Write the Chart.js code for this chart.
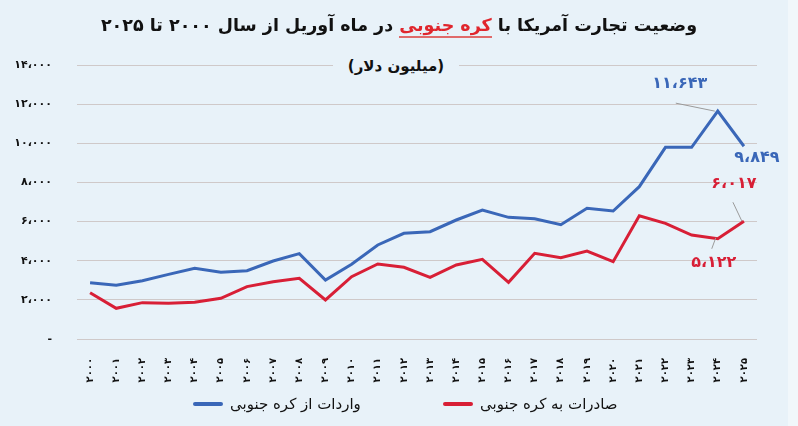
<!DOCTYPE html>
<html lang="fa">
<head>
<meta charset="utf-8">
<script src="https://cdn.jsdelivr.net/npm/chart.js@4.4.1/dist/chart.umd.min.js"></script>
<style>
  html, body { margin: 0; padding: 0; }
  body { width: 798px; height: 426px; background: #e8f2f9; position: relative; overflow: hidden;
         font-family: "DejaVu Sans", sans-serif; }
  #wrap { position: absolute; left: 0; top: 0; width: 798px; height: 426px; }
  .strip { position: absolute; right: 0; top: 0; width: 10px; height: 426px; background: #f1f7fb; }
  .title { position: absolute; top: 15px; left: 0; width: 798px; text-align: center; direction: rtl;
           font-weight: bold; font-size: 17.5px; color: #111; }
  .title .hl { color: #e0262d; border-bottom: 2px solid #e06a6a; padding-bottom: 1px; }
  .sub { position: absolute; top: 57px; left: 333px; width: 126px; text-align: center; direction: rtl;
         font-weight: bold; font-size: 15px; color: #111; background: #e8f2f9; }
  .leg { position: absolute; top: 395px; direction: rtl; font-size: 15px; color: #111; display: flex; align-items: center; gap: 7px; }
  .leg i { display: inline-block; width: 30px; height: 4px; border-radius: 2px; }
</style>
</head>
<body>
<div id="wrap"><canvas id="chart" width="798" height="426"></canvas></div>
<div class="strip"></div>
<div class="title">وضعیت تجارت آمریکا با <span class="hl">کره جنوبی</span> در ماه آوریل از سال ۲۰۰۰ تا ۲۰۲۵</div>
<div class="sub">(میلیون دلار)</div>
<div class="leg" style="left:193px"><span>واردات از کره جنوبی</span><i style="background:#3a67b8"></i></div>
<div class="leg" style="left:443px"><span>صادرات به کره جنوبی</span><i style="background:#d81f36"></i></div>
<script>
// years on the x axis
const YEARS = [2000,2001,2002,2003,2004,2005,2006,2007,2008,2009,2010,2011,2012,
               2013,2014,2015,2016,2017,2018,2019,2020,2021,2022,2023,2024,2025];

// imports from South Korea (million $)
const IMPORTS = [2877,2743,2980,3304,3611,3406,3491,3986,4360,3015,3816,4803,5400,
                 5485,6080,6590,6216,6147,5840,6677,6541,7783,9795,9795,11643,9849];

// exports to South Korea (million $)
const EXPORTS = [2366,1567,1857,1822,1873,2078,2675,2930,3100,1993,3185,3832,3662,
                 3150,3781,4070,2897,4378,4156,4497,3951,6300,5910,5314,5122,6017];

const SERIES_NAMES = ["واردات از کره جنوبی", "صادرات به کره جنوبی"];
const BLUE = "#3a67b8", RED = "#d81f36";

const FA = "۰۱۲۳۴۵۶۷۸۹";
function fa(n) {
  return n.toLocaleString("en-US").replace(/,/g, "،").replace(/\d/g, d => FA[d]);
}

// callouts for the last two points: [dataset, index, dx, dy, leader offsets or null]
const CALLOUTS = [
  [0, 24, -38, -27, [-3, 0, -42, -8]],
  [0, 25, 13, 12, null],
  [1, 25, -10, -37, [-2, 0, -11, -19]],
  [1, 24, -4, 24, [-2, -1, -6, 10]]
];

const calloutPlugin = {
  id: "callouts",
  afterDatasetsDraw(chart) {
    const { ctx, scales: { x, y } } = chart;
    ctx.save();
    CALLOUTS.forEach(([ds, i, dx, dy, lead]) => {
      const v = chart.data.datasets[ds].data[i];
      const px = x.getPixelForValue(i), py = y.getPixelForValue(v);
      if (lead) {
        ctx.strokeStyle = "#9a9a9a";
        ctx.lineWidth = 1;
        ctx.beginPath();
        ctx.moveTo(px + lead[0], py + lead[1]);
        ctx.lineTo(px + lead[2], py + lead[3]);
        ctx.stroke();
      }
      ctx.fillStyle = ds === 0 ? BLUE : RED;
      ctx.font = "bold 16px 'DejaVu Sans'";
      ctx.textAlign = "center";
      ctx.textBaseline = "middle";
      ctx.fillText(fa(v), px + dx, py + dy);
    });
    ctx.restore();
  }
};

new Chart(document.getElementById("chart"), {
  type: "line",
  data: {
    labels: YEARS.map(y => String(y).replace(/\d/g, d => FA[d])),
    datasets: [
      { label: SERIES_NAMES[0], data: IMPORTS, borderColor: BLUE, borderWidth: 3, pointRadius: 0, tension: 0 },
      { label: SERIES_NAMES[1], data: EXPORTS, borderColor: RED, borderWidth: 3, pointRadius: 0, tension: 0 }
    ]
  },
  options: {
    responsive: false,
    animation: false,
    layout: { padding: { top: 65, right: 41, left: 0, bottom: 0 } },
    plugins: { legend: { display: false }, tooltip: { enabled: false } },
    scales: {
      x: {
        offset: true,
        grid: { display: false },
        border: { display: false },
        afterFit: s => { s.height = 87; },
        ticks: {
          autoSkip: false, maxRotation: 90, minRotation: 90, padding: 11,
          color: "#111", font: { family: "DejaVu Sans", size: 10, weight: "bold" }
        }
      },
      y: {
        min: 0, max: 14000,
        afterFit: s => { s.width = 77; },
        grid: { color: "#cfc9c9", lineWidth: 1, drawTicks: false },
        border: { display: false },
        ticks: {
          stepSize: 2000, padding: 25,
          color: "#111", font: { family: "DejaVu Sans", size: 11, weight: "bold" },
          callback: v => v === 0 ? "-" : fa(v)
        }
      }
    }
  },
  plugins: [calloutPlugin]
});
</script>
</body>
</html>
